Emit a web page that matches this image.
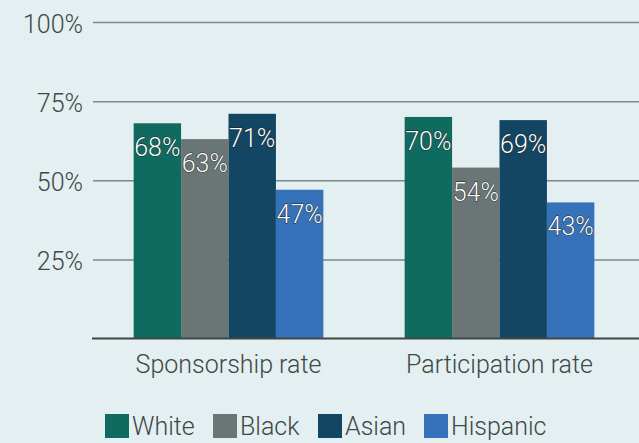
<!DOCTYPE html>
<html>
<head>
<meta charset="utf-8">
<script src="https://cdn.jsdelivr.net/npm/d3@7"></script>
<style>
  html, body { margin: 0; padding: 0; background: #e3eff0; }
  svg { display: block; font-family: Roboto, sans-serif; font-weight: 300; }
</style>
</head>
<body>
<div id="chart"></div>
<script>
const categories = ['Sponsorship rate', 'Participation rate']
const groups = ['White', 'Black', 'Asian', 'Hispanic']
const white = [68, 70]
const black = [63, 54]
const asian = [71, 69]
const hispanic = [47, 43]
const yTicks = [25, 50, 75, 100]

const colors = ['#0f6b5f', '#6a7675', '#124663', '#3672b9']

const width = 639
const height = 443
const margin = { top: 22, left: 93, right: 4, bottom: 105 }
const fontSize = '25px'

const svg = d3
  .select('#chart')
  .append('svg')
  .attr('width', width)
  .attr('height', height)

svg
  .append('rect')
  .attr('width', width)
  .attr('height', height)
  .attr('fill', '#e3eff0')

const xScale = d3
  .scaleBand()
  .domain(categories)
  .range([margin.left, width - margin.right])
  .paddingInner(0.3)
  .paddingOuter(0.15)

const xInner = d3
  .scaleBand()
  .domain(groups)
  .range([0, xScale.bandwidth()])

const yScale = d3
  .scaleLinear()
  .domain([0, 100])
  .range([height - margin.bottom + 0.5, margin.top])

// gridlines + tick labels
const yAxis = d3
  .axisLeft(yScale)
  .tickValues(yTicks)
  .tickSize(-(width - margin.left))
  .tickPadding(10)
  .tickFormat(d => d + '%')

const axisG = svg
  .append('g')
  .attr('transform', `translate(${margin.left},0)`)
  .call(yAxis)

axisG.select('.domain').remove()
axisG
  .selectAll('.tick line')
  .attr('stroke', '#7d8888')
  .attr('stroke-width', 1.5)
axisG
  .selectAll('.tick text')
  .attr('fill', '#3e4848')
  .attr('dy', '0.42em')
  .style('font-size', fontSize)
  .style('font-family', 'Roboto, sans-serif')
  .style('font-weight', 300)

const rows = categories.map((c, i) => ({
  category: c,
  values: [white[i], black[i], asian[i], hispanic[i]].map((v, j) => ({
    group: groups[j],
    value: v,
    color: colors[j]
  }))
}))

const groupG = svg
  .selectAll('.cat')
  .data(rows)
  .enter()
  .append('g')
  .attr('class', 'cat')
  .attr('transform', d => `translate(${xScale(d.category)},0)`)

groupG
  .selectAll('rect')
  .data(d => d.values)
  .enter()
  .append('rect')
  .attr('x', d => xInner(d.group))
  .attr('width', xInner.bandwidth())
  .attr('y', d => yScale(d.value))
  .attr('height', d => yScale(0) - yScale(d.value))
  .attr('fill', d => d.color)

groupG
  .selectAll('.val')
  .data(d => d.values)
  .enter()
  .append('text')
  .attr('class', 'val')
  .attr('x', d => xInner(d.group) + xInner.bandwidth() / 2)
  .attr('y', d => yScale(d.value) + 33)
  .attr('text-anchor', 'middle')
  .attr('fill', '#ffffff')
  .attr('stroke', '#1b2222')
  .attr('stroke-width', 0.9)
  .attr('paint-order', 'stroke')
  .style('font-size', fontSize)
  .text(d => d.value + '%')

// baseline
svg
  .append('line')
  .attr('x1', margin.left - 1)
  .attr('x2', width)
  .attr('y1', yScale(0))
  .attr('y2', yScale(0))
  .attr('stroke', '#3e4646')
  .attr('stroke-width', 2)

// category labels
svg
  .selectAll('.cat-label')
  .data(categories)
  .enter()
  .append('text')
  .attr('class', 'cat-label')
  .attr('x', d => xScale(d) + xScale.bandwidth() / 2)
  .attr('y', 373)
  .attr('text-anchor', 'middle')
  .attr('fill', '#3e4848')
  .style('font-size', fontSize)
  .text(d => d)

// legend
const legendX = [105, 213, 318, 424]
const legend = svg
  .selectAll('.legend')
  .data(groups)
  .enter()
  .append('g')
  .attr('class', 'legend')
  .attr('transform', (d, i) => `translate(${legendX[i]},414)`)

legend
  .append('rect')
  .attr('width', 24)
  .attr('height', 24)
  .attr('fill', (d, i) => colors[i])

legend
  .append('text')
  .attr('x', 27)
  .attr('y', 21)
  .attr('fill', '#3e4848')
  .style('font-size', fontSize)
  .text(d => d)
</script>
</body>
</html>
